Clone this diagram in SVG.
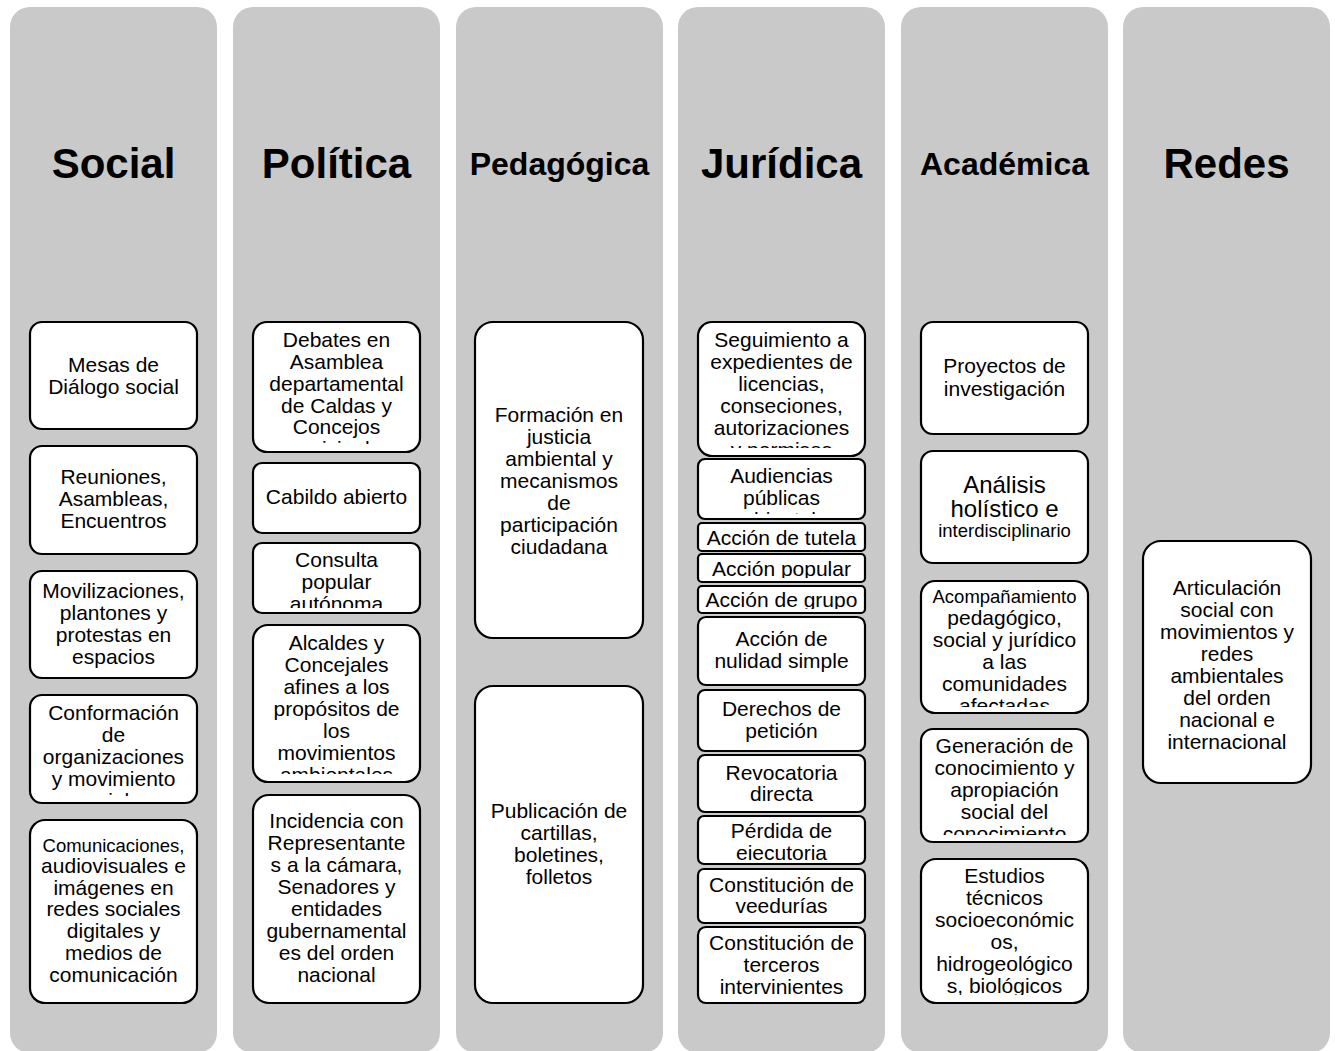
<svg xmlns="http://www.w3.org/2000/svg" width="1335" height="1051" viewBox="0 0 1335 1051">
<style>
.col{fill:#c9c9c9}
.box{fill:#fff;stroke:#000;stroke-width:2.2}
text{font-family:"Liberation Sans",Arial,sans-serif;fill:#000;text-anchor:middle}
.t{font-size:21px}
.s{font-size:18.5px}
.b{font-size:24px}
.h1{font-size:42px;font-weight:bold}
.h2{font-size:32px;font-weight:bold}
</style>
<defs>
<clipPath id="c-p1"><rect x="253" y="322" width="167" height="122"/></clipPath>
<clipPath id="c-p3"><rect x="253" y="543" width="167" height="65"/></clipPath>
<clipPath id="c-p4"><rect x="253" y="625" width="167" height="149"/></clipPath>
<clipPath id="c-s4"><rect x="30" y="695" width="167" height="101"/></clipPath>
<clipPath id="c-j1"><rect x="698" y="322" width="167" height="126"/></clipPath>
<clipPath id="c-j2"><rect x="698" y="459" width="167" height="55"/></clipPath>
<clipPath id="c-j4"><rect x="698" y="554" width="167" height="24"/></clipPath>
<clipPath id="c-j5"><rect x="698" y="586" width="167" height="23"/></clipPath>
<clipPath id="c-j8"><rect x="698" y="816" width="167" height="44"/></clipPath>
<clipPath id="c-a3"><rect x="921" y="581" width="167" height="126"/></clipPath>
<clipPath id="c-a4"><rect x="921" y="729" width="167" height="106"/></clipPath>
<clipPath id="c-a5"><rect x="921" y="859" width="167" height="136"/></clipPath>
</defs>

<g id="columns">
<g id="col-social"><rect class="col" x="10" y="7" width="207" height="1046" rx="20"/><text class="h1" x="113.5" y="178">Social</text></g>
<g id="col-politica"><rect class="col" x="233" y="7" width="207" height="1046" rx="20"/><text class="h1" x="336.5" y="178">Política</text></g>
<g id="col-pedagogica"><rect class="col" x="456" y="7" width="207" height="1046" rx="20"/><text class="h2" x="559.5" y="175">Pedagógica</text></g>
<g id="col-juridica"><rect class="col" x="678" y="7" width="207" height="1046" rx="20"/><text class="h1" x="781.5" y="178">Jurídica</text></g>
<g id="col-academica"><rect class="col" x="901" y="7" width="207" height="1046" rx="20"/><text class="h2" x="1004.5" y="175">Académica</text></g>
<g id="col-redes"><rect class="col" x="1123" y="7" width="207" height="1046" rx="20"/><text class="h1" x="1226.5" y="178">Redes</text></g>
</g>

<g id="connectors"></g>

<!-- Social -->
<g id="s1"><rect class="box" x="30" y="322" width="167" height="107" rx="12"/>
<text class="t" x="113.5" y="372">Mesas de</text><text class="t" x="113.5" y="394">Diálogo social</text></g>
<g id="s2"><rect class="box" x="30" y="446" width="167" height="108" rx="12"/>
<text class="t" x="113.5" y="484">Reuniones,</text><text class="t" x="113.5" y="506">Asambleas,</text><text class="t" x="113.5" y="528">Encuentros</text></g>
<g id="s3"><rect class="box" x="30" y="571" width="167" height="107" rx="12"/>
<text class="t" x="113.5" y="598">Movilizaciones,</text><text class="t" x="113.5" y="620">plantones y</text><text class="t" x="113.5" y="642">protestas en</text><text class="t" x="113.5" y="664">espacios</text></g>
<g id="s4"><rect class="box" x="30" y="695" width="167" height="108" rx="12"/>
<g clip-path="url(#c-s4)"><text class="t" x="113.5" y="720">Conformación</text><text class="t" x="113.5" y="742">de</text><text class="t" x="113.5" y="764">organizaciones</text><text class="t" x="113.5" y="786">y movimiento</text><text class="t" x="113.5" y="808">sociales</text></g></g>
<g id="s5"><rect class="box" x="30" y="820" width="167" height="183" rx="15"/>
<text class="s" x="113.5" y="852">Comunicaciones,</text><text class="t" x="113.5" y="873">audiovisuales e</text><text class="t" x="113.5" y="895">imágenes en</text><text class="t" x="113.5" y="916">redes sociales</text><text class="t" x="113.5" y="938">digitales y</text><text class="t" x="113.5" y="960">medios de</text><text class="t" x="113.5" y="982">comunicación</text></g>

<!-- Política -->
<g id="p1"><rect class="box" x="253" y="322" width="167" height="130" rx="14"/>
<g clip-path="url(#c-p1)"><text class="t" x="336.5" y="347">Debates en</text><text class="t" x="336.5" y="369">Asamblea</text><text class="t" x="336.5" y="391">departamental</text><text class="t" x="336.5" y="413">de Caldas y</text><text class="t" x="336.5" y="434">Concejos</text><text class="t" x="336.5" y="456">municipales</text></g></g>
<g id="p2"><rect class="box" x="253" y="463" width="167" height="70" rx="9"/>
<text class="t" x="336.5" y="504">Cabildo abierto</text></g>
<g id="p3"><rect class="box" x="253" y="543" width="167" height="70" rx="9"/>
<g clip-path="url(#c-p3)"><text class="t" x="336.5" y="567">Consulta</text><text class="t" x="336.5" y="589">popular</text><text class="t" x="336.5" y="611">autónoma</text></g></g>
<g id="p4"><rect class="box" x="253" y="625" width="167" height="157" rx="15"/>
<g clip-path="url(#c-p4)"><text class="t" x="336.5" y="650">Alcaldes y</text><text class="t" x="336.5" y="672">Concejales</text><text class="t" x="336.5" y="694">afines a los</text><text class="t" x="336.5" y="716">propósitos de</text><text class="t" x="336.5" y="738">los</text><text class="t" x="336.5" y="760">movimientos</text><text class="t" x="336.5" y="782">ambientales</text></g></g>
<g id="p5"><rect class="box" x="253" y="795" width="167" height="208" rx="16"/>
<text class="t" x="336.5" y="828">Incidencia con</text><text class="t" x="336.5" y="850">Representante</text><text class="t" x="336.5" y="872">s a la cámara,</text><text class="t" x="336.5" y="894">Senadores y</text><text class="t" x="336.5" y="916">entidades</text><text class="t" x="336.5" y="938">gubernamental</text><text class="t" x="336.5" y="960">es del orden</text><text class="t" x="336.5" y="982">nacional</text></g>

<!-- Pedagógica -->
<g id="g1"><rect class="box" x="475" y="322" width="168" height="316" rx="18"/>
<text class="t" x="559" y="422">Formación en</text><text class="t" x="559" y="444">justicia</text><text class="t" x="559" y="466">ambiental y</text><text class="t" x="559" y="488">mecanismos</text><text class="t" x="559" y="510">de</text><text class="t" x="559" y="532">participación</text><text class="t" x="559" y="554">ciudadana</text></g>
<g id="g2"><rect class="box" x="475" y="686" width="168" height="317" rx="18"/>
<text class="t" x="559" y="818">Publicación de</text><text class="t" x="559" y="840">cartillas,</text><text class="t" x="559" y="862">boletines,</text><text class="t" x="559" y="884">folletos</text></g>

<!-- Jurídica -->
<g id="j1"><rect class="box" x="698" y="322" width="167" height="134" rx="14"/>
<g clip-path="url(#c-j1)"><text class="t" x="781.5" y="347">Seguimiento a</text><text class="t" x="781.5" y="369">expedientes de</text><text class="t" x="781.5" y="391">licencias,</text><text class="t" x="781.5" y="413">conseciones,</text><text class="t" x="781.5" y="435">autorizaciones</text><text class="t" x="781.5" y="457">y permisos</text></g></g>
<g id="j2"><rect class="box" x="698" y="459" width="167" height="60" rx="7"/>
<g clip-path="url(#c-j2)"><text class="t" x="781.5" y="483">Audiencias</text><text class="t" x="781.5" y="505">públicas</text><text class="t" x="781.5" y="527">ambientales</text></g></g>
<g id="j3"><rect class="box" x="698" y="523" width="167" height="28" rx="4"/>
<text class="t" x="781.5" y="545">Acción de tutela</text></g>
<g id="j4"><rect class="box" x="698" y="554" width="167" height="28" rx="4"/>
<g clip-path="url(#c-j4)"><text class="t" x="781.5" y="576">Acción popular</text></g></g>
<g id="j5"><rect class="box" x="698" y="586" width="167" height="27" rx="4"/>
<g clip-path="url(#c-j5)"><text class="t" x="781.5" y="607">Acción de grupo</text></g></g>
<g id="j6"><rect class="box" x="698" y="617" width="167" height="68" rx="8"/>
<text class="t" x="781.5" y="646">Acción de</text><text class="t" x="781.5" y="668">nulidad simple</text></g>
<g id="j7"><rect class="box" x="698" y="690" width="167" height="61" rx="7"/>
<text class="t" x="781.5" y="716">Derechos de</text><text class="t" x="781.5" y="738">petición</text></g>
<g id="j8"><rect class="box" x="698" y="755" width="167" height="57" rx="7"/>
<text class="t" x="781.5" y="780">Revocatoria</text><text class="t" x="781.5" y="801">directa</text></g>
<g id="j9"><rect class="box" x="698" y="816" width="167" height="48" rx="6"/>
<g clip-path="url(#c-j8)"><text class="t" x="781.5" y="838">Pérdida de</text><text class="t" x="781.5" y="860">ejecutoria</text></g></g>
<g id="j10"><rect class="box" x="698" y="869" width="167" height="54" rx="6"/>
<text class="t" x="781.5" y="892">Constitución de</text><text class="t" x="781.5" y="913">veedurías</text></g>
<g id="j11"><rect class="box" x="698" y="927" width="167" height="76" rx="8"/>
<text class="t" x="781.5" y="950">Constitución de</text><text class="t" x="781.5" y="972">terceros</text><text class="t" x="781.5" y="994">intervinientes</text></g>

<!-- Académica -->
<g id="a1"><rect class="box" x="921" y="322" width="167" height="112" rx="12"/>
<text class="t" x="1004.5" y="373">Proyectos de</text><text class="t" x="1004.5" y="396">investigación</text></g>
<g id="a2"><rect class="box" x="921" y="451" width="167" height="112" rx="12"/>
<text class="b" x="1004.5" y="493">Análisis</text><text class="b" x="1004.5" y="517">holístico e</text><text class="s" x="1004.5" y="537">interdisciplinario</text></g>
<g id="a3"><rect class="box" x="921" y="581" width="167" height="132" rx="14"/>
<g clip-path="url(#c-a3)"><text class="s" x="1004.5" y="603">Acompañamiento</text><text class="t" x="1004.5" y="625">pedagógico,</text><text class="t" x="1004.5" y="647">social y jurídico</text><text class="t" x="1004.5" y="669">a las</text><text class="t" x="1004.5" y="691">comunidades</text><text class="t" x="1004.5" y="713">afectadas</text></g></g>
<g id="a4"><rect class="box" x="921" y="729" width="167" height="113" rx="12"/>
<g clip-path="url(#c-a4)"><text class="t" x="1004.5" y="753">Generación de</text><text class="t" x="1004.5" y="775">conocimiento y</text><text class="t" x="1004.5" y="797">apropiación</text><text class="t" x="1004.5" y="819">social del</text><text class="t" x="1004.5" y="841">conocimiento</text></g></g>
<g id="a5"><rect class="box" x="921" y="859" width="167" height="144" rx="15"/>
<g clip-path="url(#c-a5)"><text class="t" x="1004.5" y="883">Estudios</text><text class="t" x="1004.5" y="905">técnicos</text><text class="t" x="1004.5" y="927">socioeconómic</text><text class="t" x="1004.5" y="949">os,</text><text class="t" x="1004.5" y="971">hidrogeológico</text><text class="t" x="1004.5" y="993">s, biológicos</text></g></g>

<!-- Redes -->
<g id="r1"><rect class="box" x="1143" y="541" width="168" height="242" rx="18"/>
<text class="t" x="1227" y="595">Articulación</text><text class="t" x="1227" y="617">social con</text><text class="t" x="1227" y="639">movimientos y</text><text class="t" x="1227" y="661">redes</text><text class="t" x="1227" y="683">ambientales</text><text class="t" x="1227" y="705">del orden</text><text class="t" x="1227" y="727">nacional e</text><text class="t" x="1227" y="749">internacional</text></g>
</svg>
